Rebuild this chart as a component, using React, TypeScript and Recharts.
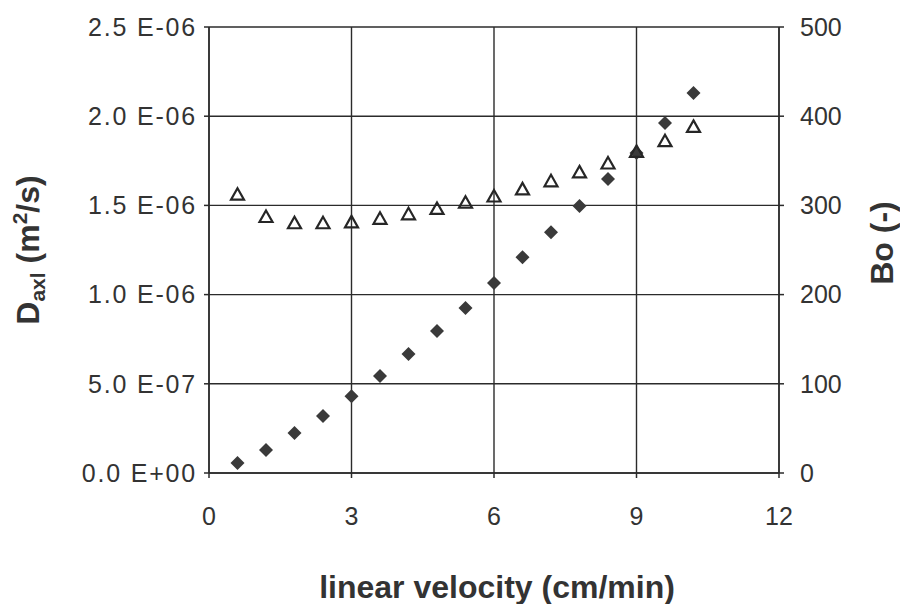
import { ScatterChart, Scatter, XAxis, YAxis, CartesianGrid, Label } from "recharts";

const velocity = [0.6, 1.2, 1.8, 2.4, 3.0, 3.6, 4.2, 4.8, 5.4, 6.0, 6.6, 7.2, 7.8, 8.4, 9.0, 9.6, 10.2];
const daxl = [
  0.056e-6, 0.129e-6, 0.224e-6, 0.32e-6, 0.43e-6, 0.544e-6, 0.667e-6, 0.796e-6, 0.925e-6,
  1.065e-6, 1.21e-6, 1.35e-6, 1.497e-6, 1.648e-6, 1.794e-6, 1.962e-6, 2.13e-6,
];
const bodenstein = [312, 287, 280, 280, 281, 285, 290, 296, 303, 310, 318, 327, 337, 347, 360, 372, 388];

const xTicks = [0, 3, 6, 9, 12];
const leftTicks = [0, 0.5e-6, 1.0e-6, 1.5e-6, 2.0e-6, 2.5e-6];
const rightTicks = [0, 100, 200, 300, 400, 500];

const INK = "#2b2b2b";
const TEXT = "#333";
const FONT = "'Liberation Sans', Arial, sans-serif";

const daxlData = velocity.map((v, i) => ({ v, d: daxl[i] }));
const boData = velocity.map((v, i) => ({ v, bo: bodenstein[i] }));

// "2.5 E-06" style labels
function sciLabel(value: number) {
  const [m, e] = value.toExponential(1).split("e");
  const n = parseInt(e, 10);
  const sign = n < 0 ? "-" : "+";
  return `${m} E${sign}${String(Math.abs(n)).padStart(2, "0")}`;
}

function Diamond(props: any) {
  const { cx, cy } = props;
  if (cx == null || cy == null) return null;
  const r = 7;
  return (
    <polygon
      points={`${cx},${cy - r} ${cx + r},${cy} ${cx},${cy + r} ${cx - r},${cy}`}
      fill="#3a3a3a"
    />
  );
}

function Triangle(props: any) {
  const { cx, cy } = props;
  if (cx == null || cy == null) return null;
  const w = 6.5;
  return (
    <polygon
      points={`${cx},${cy - 6.5} ${cx + w},${cy + 5} ${cx - w},${cy + 5}`}
      fill="none"
      stroke="#262626"
      strokeWidth={2.2}
      strokeLinejoin="miter"
    />
  );
}

const tickStyle = { fontSize: 25, fill: TEXT, fontFamily: FONT };

export default function App() {
  return (
    <div style={{ position: "absolute", left: 0, top: 0, background: "#fff" }}>
      <ScatterChart width={900} height={604} margin={{ top: 27, right: 0, bottom: 0, left: 0 }}>
        <CartesianGrid yAxisId="left" stroke={INK} strokeWidth={1.4} />
        <XAxis
          type="number"
          dataKey="v"
          domain={[0, 12]}
          ticks={xTicks}
          interval={0}
          height={131}
          tickSize={5}
          tickMargin={29}
          stroke={INK}
          strokeWidth={1.5}
          tick={tickStyle}
        >
          <Label
            content={() => (
              <text
                x={497}
                y={598}
                textAnchor="middle"
                fontFamily={FONT}
                fontWeight="bold"
                fontSize={32}
                fill={TEXT}
              >
                linear velocity (cm/min)
              </text>
            )}
          />
        </XAxis>
        <YAxis
          yAxisId="left"
          type="number"
          dataKey="d"
          domain={[0, 2.5e-6]}
          ticks={leftTicks}
          interval={0}
          width={209}
          tickSize={5}
          tickMargin={7}
          stroke={INK}
          strokeWidth={1.5}
          tick={{ ...tickStyle, letterSpacing: 1.8 }}
          tickFormatter={sciLabel}
        >
          <Label
            content={() => (
              <text
                x={39}
                y={250}
                transform="rotate(-90, 39, 250)"
                textAnchor="middle"
                fontFamily={FONT}
                fontWeight="bold"
                fontSize={32}
                fill={TEXT}
              >
                D
                <tspan fontSize={21} dy={6}>
                  axl
                </tspan>
                <tspan dy={-6}> (m</tspan>
                <tspan fontSize={21} dy={-12}>
                  2
                </tspan>
                <tspan dy={12}>/s)</tspan>
              </text>
            )}
          />
        </YAxis>
        <YAxis
          yAxisId="right"
          orientation="right"
          type="number"
          dataKey="bo"
          domain={[0, 500]}
          ticks={rightTicks}
          interval={0}
          width={121}
          tickSize={5}
          tickMargin={16}
          stroke={INK}
          strokeWidth={1.5}
          tick={tickStyle}
        >
          <Label
            content={() => (
              <text
                x={893}
                y={243}
                transform="rotate(-90, 893, 243)"
                textAnchor="middle"
                fontFamily={FONT}
                fontWeight="bold"
                fontSize={32}
                fill={TEXT}
              >
                Bo (-)
              </text>
            )}
          />
        </YAxis>
        <Scatter
          yAxisId="left"
          data={daxlData}
          shape={(p: any) => <Diamond {...p} />}
          isAnimationActive={false}
        />
        <Scatter
          yAxisId="right"
          data={boData}
          shape={(p: any) => <Triangle {...p} />}
          isAnimationActive={false}
        />
      </ScatterChart>
    </div>
  );
}
